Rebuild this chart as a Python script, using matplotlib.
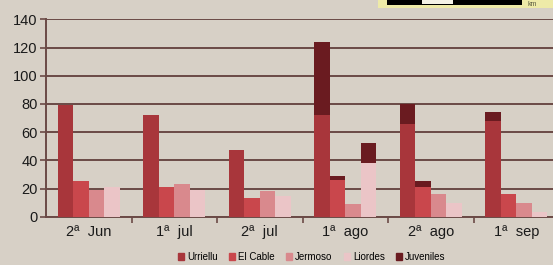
import matplotlib
matplotlib.use("Agg")
import matplotlib.pyplot as plt
from matplotlib.patches import Rectangle
import numpy as np

categories = ["2ª  Jun", "1ª  jul", "2ª  jul", "1ª  ago", "2ª  ago", "1ª  sep"]
urriellu = [79, 72, 47, 72, 66, 68]
el_cable = [25, 21, 13, 26, 21, 16]
jermoso = [19, 23, 18, 9, 16, 10]
liordes = [21, 19, 15, 38, 10, 3]
juv_urriellu = [0, 0, 0, 52, 14, 6]
juv_el_cable = [0, 0, 0, 3, 4, 0]
juv_jermoso = [0, 0, 0, 0, 0, 0]
juv_liordes = [0, 0, 0, 14, 0, 0]
series_names = ["Urriellu", "El Cable", "Jermoso", "Liordes", "Juveniles"]
yticks = [0, 20, 40, 60, 80, 100, 120, 140]

colors = ["#a8363b", "#c9474c", "#d9898d", "#ebc5c7", "#6a1b20"]
bg = "#d7d0c6"
grid_c = "#6b4a46"

plt.rcParams['font.family'] = ['Liberation Sans', 'DejaVu Sans']

fig = plt.figure(figsize=(5.53, 2.65), dpi=100)
fig.patch.set_facecolor(bg)
W, H = 553, 265
ax = fig.add_axes([46/W, 48.3/H, 513/W, 197.4/H])
ax.set_facecolor(bg)

x = np.arange(len(categories))
bw = 0.181
offs = [-1.5*bw, -0.5*bw, 0.5*bw, 1.5*bw]
bases = [urriellu, el_cable, jermoso, liordes]
juvs = [juv_urriellu, juv_el_cable, juv_jermoso, juv_liordes]
for i in range(4):
    ax.bar(x + offs[i], bases[i], width=bw, color=colors[i], zorder=3, linewidth=0)
    ax.bar(x + offs[i], juvs[i], bottom=bases[i], width=bw, color=colors[4], zorder=3, linewidth=0)

ax.set_xlim(-0.5, len(categories) - 0.5)
ax.set_ylim(0, 140)
ax.set_yticks(yticks)
ax.set_yticklabels([str(v) for v in yticks], fontsize=10.5, color="#1a1a1a")
ax.yaxis.grid(True, color=grid_c, linewidth=1.4, zorder=0)
ax.set_axisbelow(True)
ax.set_xticks(x)
ax.set_xticklabels(categories, fontsize=10.5, color="#1a1a1a")
ax.set_xticks(np.arange(0.5, len(categories) - 0.5, 1), minor=True)
ax.tick_params(axis='x', which='major', length=0, pad=6)
ax.tick_params(axis='x', which='minor', length=4, width=1.2, color=grid_c, direction='out')
ax.tick_params(axis='y', length=4, width=1.2, color=grid_c, pad=2)
for s in ["top", "right"]:
    ax.spines[s].set_visible(False)
for s in ["left", "bottom"]:
    ax.spines[s].set_color(grid_c)
    ax.spines[s].set_linewidth(1.4)

# legend
handles = [Rectangle((0, 0), 1, 1, color=c) for c in colors]
leg = fig.legend(handles, series_names, loc="center", bbox_to_anchor=(312/W, 1 - 257/H),
                 ncol=5, frameon=False, fontsize=7, handlelength=0.6, handleheight=0.6,
                 handletextpad=0.3, columnspacing=1.2)

# partial inset box at top-right
fig.patches.append(Rectangle((378/W, 1 - 8/H), (W - 378)/W, 8/H, transform=fig.transFigure,
                             facecolor="#eeeaa8", edgecolor="none", zorder=5))
fig.patches.append(Rectangle((387/W, 1 - 5/H), (522 - 387)/W, 5/H, transform=fig.transFigure,
                             facecolor="#000000", edgecolor="none", zorder=6))
fig.patches.append(Rectangle((422/W, 1 - 4/H), (453 - 422)/W, 4/H, transform=fig.transFigure,
                             facecolor="#f4f2e6", edgecolor="none", zorder=7))
fig.text(527/W, 1 - 4/H, "km", fontsize=5, color="#5a5a40", va="center", ha="left", zorder=8)

fig.savefig("out.png", dpi=100, facecolor=bg)
